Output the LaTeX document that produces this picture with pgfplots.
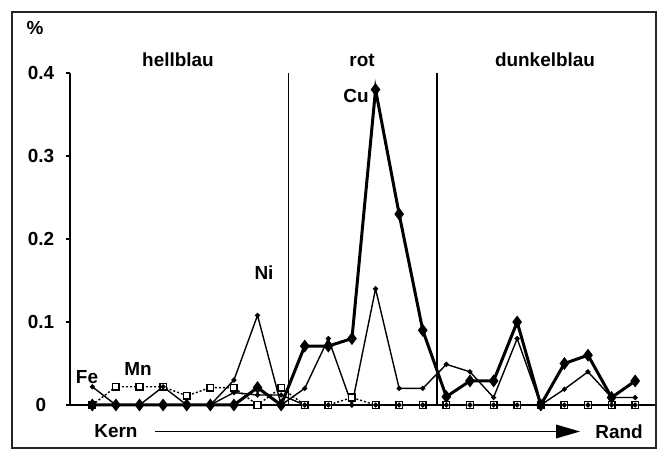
\documentclass[border=0pt]{standalone}
\usepackage{fontspec}
\setmainfont{Liberation Sans}
\usepackage{pgfplots}
\usepackage{pgfplotstable}
\pgfplotsset{compat=1.18}
\pgfplotstableread{
x  Cu     Ni     Fe     Mn
0  0      0      0.022  0
1  0      0      0      0.022
2  0      0      0      0.022
3  0      0      0.022  0.022
4  0      0      0      0.011
5  0      0      0      0.021
6  0      0.03   0.015  0.021
7  0.021  0.108  0.012  0
8  0      0      0.012  0.021
9  0.071  0.02   0      0
10 0.071  0.08   0      0
11 0.08   0      0      0.009
12 0.38   0.14   0      0
13 0.23   0.02   0      0
14 0.09   0.02   0      0
15 0.01   0.049  0      0
16 0.029  0.04   0      0
17 0.029  0.009  0      0
18 0.10   0.08   0      0
19 0      0      0      0
20 0.05   0.019  0      0
21 0.06   0.04   0      0
22 0.009  0.009  0      0
23 0.029  0.009  0      0
}\data
\begin{document}
\begin{tikzpicture}[x=1bp,y=1bp,font=\fontsize{19}{21}\selectfont\bfseries]
\path (0,0) rectangle (658,451);
\draw[line width=1.8bp, black!85] (12,3) rectangle (656,439);
\begin{axis}[at={(70bp,46bp)}, anchor=south west, scale only axis,
  width=585bp, height=332bp,
  xmin=-0.945, xmax=23.84, ymin=0, ymax=0.4,
  axis lines=left, axis line style={-, line width=1.6bp},
  xtick=\empty, ytick={0,0.1,0.2,0.3,0.4},
  yticklabels={0,0.1,0.2,0.3,0.4},
  tick align=outside, major tick length=4bp,
  tick style={line width=1.4bp, black},
  tick label style={font=\fontsize{19}{21}\selectfont\bfseries},
  yticklabel style={anchor=center, xshift=-25bp},
  clip=false]
\addplot[black, line width=1.5bp, no marks] coordinates {(8.31,0) (8.31,0.4)};
\addplot[black, line width=1.5bp, no marks] coordinates {(14.6,0) (14.6,0.4)};
\addplot[black, line width=1.4bp, dash pattern=on 2bp off 2bp, mark=square*, mark size=3.3bp, mark options={solid, fill=white, draw=black, line width=1.5bp}] table[x=x,y=Mn]{\data};
\addplot[black, line width=1.4bp, mark=*, mark size=1.8bp] table[x=x,y=Fe]{\data};
\addplot[black, line width=1.4bp, mark=*, mark size=1.8bp] table[x=x,y=Ni]{\data};
\addplot[black, line width=3bp, mark=diamond*, mark size=4bp, mark options={solid}] table[x=x,y=Cu]{\data};
\end{axis}
\node at (35,423) {\%};
\node at (178,391) {hellblau};
\node at (362,391) {rot};
\node at (545,391) {dunkelblau};
\node at (356,355) {Cu};
\node at (264,178) {Ni};
\node at (87,74) {Fe};
\node at (138,82) {Mn};
\node at (116,20) {Kern};
\node at (619,19) {Rand};
\draw[line width=1.8bp] (155,19.5) -- (565,19.5);
\fill (556,12.5) -- (580,19.5) -- (556,26.5) -- cycle;
\end{tikzpicture}
\end{document}
